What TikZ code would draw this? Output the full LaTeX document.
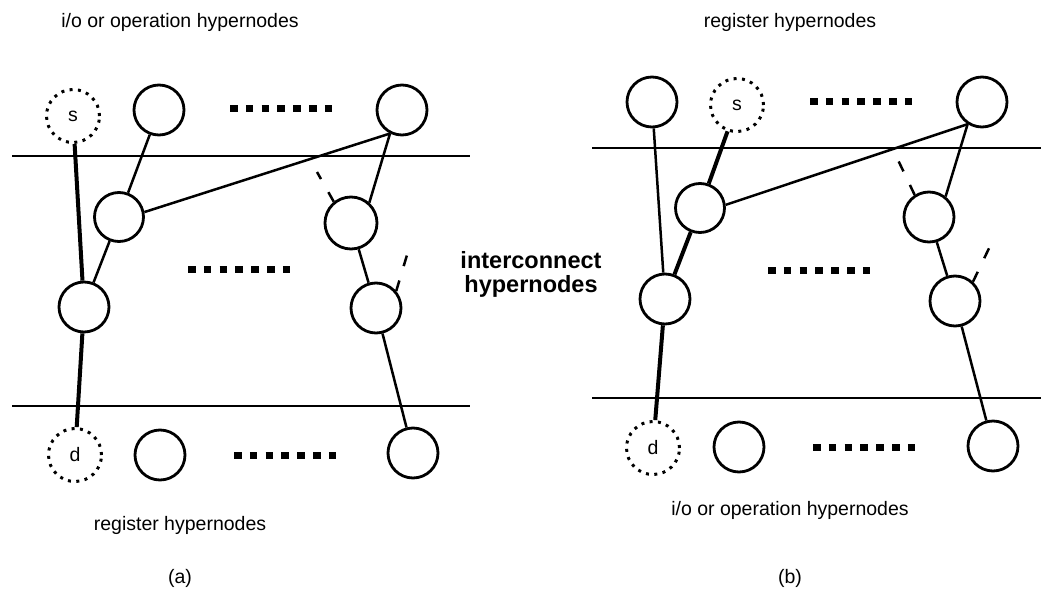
\documentclass[tikz,border=0pt]{standalone}
\usepackage{fontspec}
\setmainfont{Liberation Sans}
\begin{document}
\begin{tikzpicture}[x=1pt,y=-1pt,
  hn/.style={circle,draw,line width=2.8pt,minimum size=50pt,inner sep=0pt},
  term/.style={circle,draw,line width=3pt,dash pattern=on 3pt off 5.4pt,minimum size=53pt,inner sep=0pt,font=\fontsize{19.5}{22}\selectfont},
  thin/.style={line width=2.5pt},
  thick/.style={line width=4pt},
  stub/.style={line width=2.5pt,dash pattern=on 11pt off 15pt},
  bar/.style={line width=2.6pt},
  ell/.style={line width=7pt,dash pattern=on 7.5pt off 8.3pt},
  lbl/.style={font=\fontsize{19.5}{22}\selectfont},
  blbl/.style={font=\fontsize{23.5}{24}\selectfont\bfseries,align=center}]
\useasboundingbox (0,0) rectangle (1041,594);

% ---------- (a) ----------
\node[lbl] (aTitle) at (180,22) {i/o or operation hypernodes};
\draw[bar] (12,156) -- (470,156);
\draw[bar] (12,406) -- (470,406);
\node[term] (aS) at (73,116) {s};
\node[hn] (aT2) at (159,110) {};
\node[hn] (aTR) at (402,110) {};
\draw[ell] (230,108) -- (334,108);
\node[hn,minimum size=49pt] (aA2) at (119,217) {};
\node[hn,minimum size=52pt] (aB2) at (351,223) {};
\draw[ell] (188,269) -- (292,269);
\node[hn] (aA3) at (84,307) {};
\node[hn] (aB3) at (376,308) {};
\node[term] (aD) at (75,455) {d};
\node[hn] (aD2) at (160,455) {};
\draw[ell] (234,455) -- (338,455);
\node[hn] (aBR) at (413,453) {};
\node[lbl] (aBot) at (180,525) {register hypernodes};
\node[lbl] (aCap) at (180,578) {(a)};
\coordinate (aB2s) at (317,172);
\coordinate (aB3s) at (410,245);

\draw[thick] (aS) -- (aA3);
\draw[thick] (aA3) -- (aD);
\draw[thin] (aT2) -- (aA2);
\draw[thin] (aA2.11) -- (aTR.243);
\draw[thin] (aTR.243) -- (aB2.48);
\draw[thin] (aA2) -- (aA3);
\draw[thin] (aB2) -- (aB3);
\draw[thin] (aB3) -- (aBR);
\draw[stub] (aB2.129) -- (aB2s);
\draw[stub] (aB3.40) -- (aB3s);

% ---------- centre label ----------
\node[blbl] (ic) at (531,274) {interconnect\\hypernodes};

% ---------- (b) ----------
\node[lbl] (bTitle) at (790,22) {register hypernodes};
\draw[bar] (592,148) -- (1041,148);
\draw[bar] (592,398) -- (1041,398);
\node[hn] (bT1) at (652,102) {};
\node[term] (bS) at (737,105) {s};
\node[hn] (bTR) at (982,102) {};
\draw[ell] (810,101) -- (914,101);
\node[hn,minimum size=49pt] (bA2) at (700,208) {};
\node[hn] (bB2) at (929,217) {};
\draw[ell] (768,270) -- (872,270);
\node[hn] (bA3) at (665,299) {};
\node[hn] (bB3) at (955,301) {};
\node[term] (bD) at (653,448) {d};
\node[hn] (bD2) at (739,447) {};
\draw[ell] (813,447) -- (917,447);
\node[hn] (bBR) at (993,446) {};
\node[lbl] (bBot) at (790,510) {i/o or operation hypernodes};
\node[lbl] (bCap) at (790,578) {(b)};
\coordinate (bB2s) at (898,160);
\coordinate (bB3s) at (992,242);

\draw[thin] (bT1) -- (bA3);
\draw[thick] (bS) -- (bA2);
\draw[thick] (bA2) -- (bA3);
\draw[thick] (bA3) -- (bD);
\draw[thin] (bA2.7) -- (bTR.237);
\draw[thin] (bTR.237) -- (bB2.51);
\draw[thin] (bB2) -- (bB3);
\draw[thin] (bB3) -- (bBR);
\draw[stub] (bB2.123) -- (bB2s);
\draw[stub] (bB3.47) -- (bB3s);
\end{tikzpicture}
\end{document}
